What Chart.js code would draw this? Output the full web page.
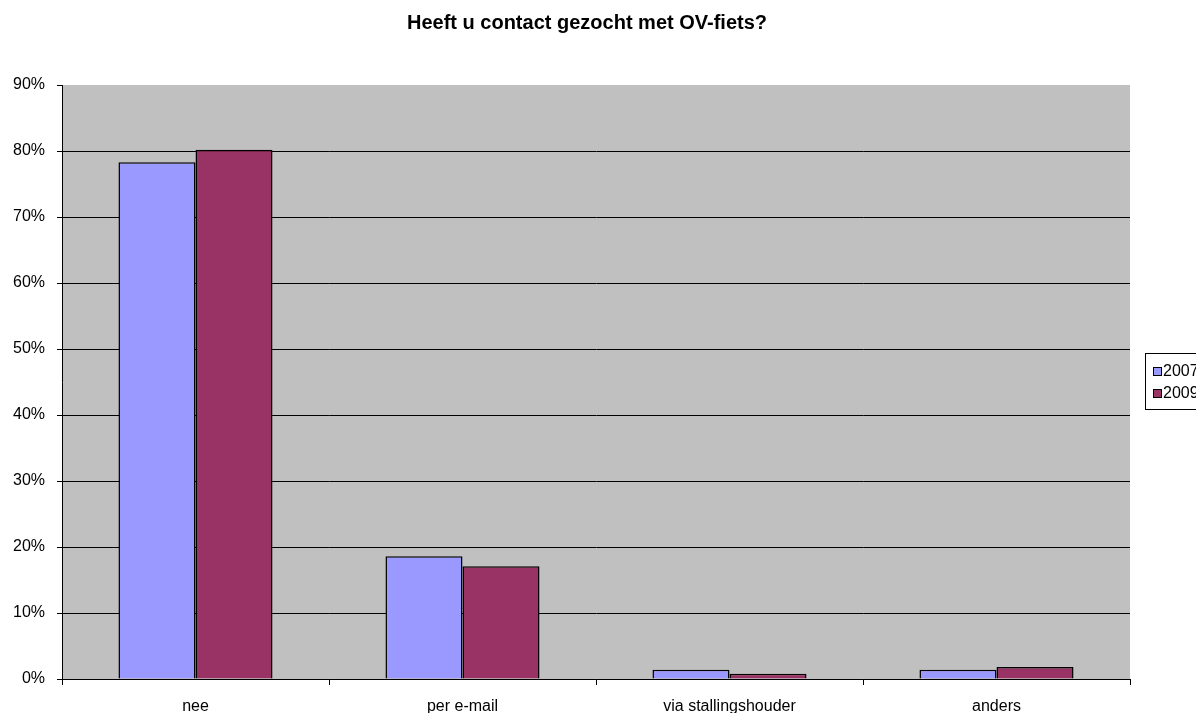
<!DOCTYPE html>
<html>
<head>
<meta charset="utf-8">
<script src="https://cdn.jsdelivr.net/npm/chart.js@4"></script>
<style>
  html, body { margin: 0; padding: 0; background: #fff; overflow: hidden; }
  #wrap { position: relative; width: 1196px; height: 713px; }
</style>
</head>
<body>
<div id="wrap"><canvas id="chart"></canvas></div>
<script>
const categories = ['nee', 'per e-mail', 'via stallingshouder', 'anders'];
const seriesNames = ['2007', '2009'];
const values2007 = [78.3, 18.6, 1.4, 1.4];
const values2009 = [80.2, 17.1, 0.8, 1.8];
const chartTitle = 'Heeft u contact gezocht met OV-fiets?';

const FONT = '"Liberation Sans", Arial, sans-serif';

// grey plot area like the old Excel default
const plotBackground = {
    id: 'plotBackground',
    beforeDraw(chart) {
        const { ctx, chartArea: a } = chart;
        ctx.save();
        ctx.fillStyle = '#c0c0c0';
        ctx.fillRect(a.left, a.top, a.right - a.left, a.bottom - a.top);
        ctx.restore();
    }
};

// title and boxed legend drawn by hand, the legend runs off the right edge
const excelExtras = {
    id: 'excelExtras',
    afterDraw(chart) {
        const { ctx } = chart;
        ctx.save();
        ctx.fillStyle = '#000';
        ctx.font = 'bold 20px ' + FONT;
        ctx.textAlign = 'center';
        ctx.textBaseline = 'middle';
        ctx.fillText(chartTitle, 587, 23);

        ctx.strokeStyle = '#000';
        ctx.lineWidth = 1;
        ctx.fillStyle = '#fff';
        ctx.fillRect(1145.5, 353.5, 80, 56);
        ctx.strokeRect(1145.5, 353.5, 80, 56);

        ctx.font = '16px ' + FONT;
        ctx.textAlign = 'left';
        chart.data.datasets.forEach((ds, i) => {
            const y = 372 + i * 22;
            ctx.fillStyle = ds.backgroundColor;
            ctx.fillRect(1153.5, y - 4.5, 8, 8);
            ctx.strokeRect(1153.5, y - 4.5, 8, 8);
            ctx.fillStyle = '#000';
            ctx.fillText(ds.label, 1163, y);
        });
        ctx.restore();
    }
};

new Chart(document.getElementById('chart'), {
    type: 'bar',
    data: {
        labels: categories,
        datasets: [{
            label: seriesNames[0],
            data: values2007,
            backgroundColor: '#9999ff',
            borderColor: '#000',
            borderWidth: 1.5
        }, {
            label: seriesNames[1],
            data: values2009,
            backgroundColor: '#993366',
            borderColor: '#000',
            borderWidth: 1.5
        }]
    },
    options: {
        responsive: true,
        maintainAspectRatio: false,
        animation: false,
        layout: { padding: { top: 85, right: 66, left: 0, bottom: 0 } },
        datasets: { bar: { categoryPercentage: 0.577, barPercentage: 1 } },
        plugins: {
            legend: { display: false },
            title: { display: false },
            tooltip: { enabled: false }
        },
        scales: {
            x: {
                afterFit(axis) { axis.height = 34; },
                border: { color: '#000', width: 1 },
                grid: { offset: true, drawOnChartArea: false, tickLength: 6, tickColor: '#000' },
                ticks: { color: '#000', font: { family: FONT, size: 16 }, padding: 12 }
            },
            y: {
                min: 0,
                max: 90,
                afterFit(axis) { axis.width = 62; },
                border: { color: '#000', width: 1 },
                grid: {
                    color: ctx => (ctx.tick && ctx.tick.value === 90) ? 'rgba(0,0,0,0)' : '#000',
                    tickColor: '#000',
                    tickLength: 5
                },
                ticks: {
                    stepSize: 10,
                    color: '#000',
                    font: { family: FONT, size: 16 },
                    padding: 12,
                    callback: v => v + '%'
                }
            }
        }
    },
    plugins: [plotBackground, excelExtras]
});
</script>
</body>
</html>
